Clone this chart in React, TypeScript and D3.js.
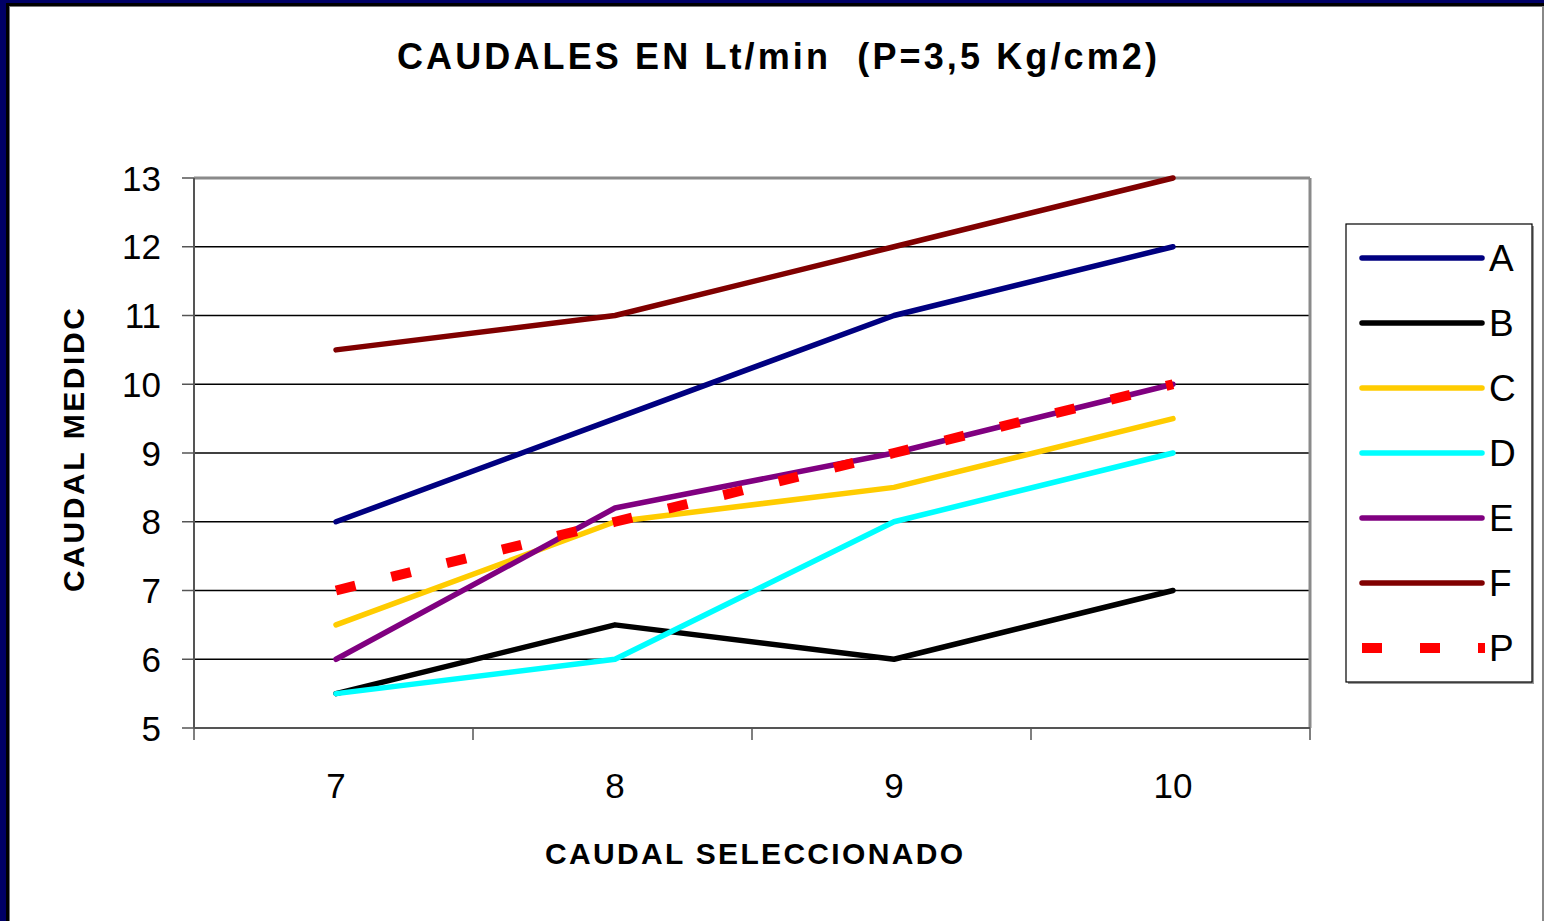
import React from "react";
import * as d3 from "d3";

// Selected flow (Lt/min) on the x axis
const categories = ["7", "8", "9", "10"];
const yTicks = [5, 6, 7, 8, 9, 10, 11, 12, 13];

// Measured flow per nozzle
const seriesNames = ["A", "B", "C", "D", "E", "F", "P"];
const valuesA = [8, 9.5, 11, 12];
const valuesB = [5.5, 6.5, 6, 7];
const valuesC = [6.5, 8, 8.5, 9.5];
const valuesD = [5.5, 6, 8, 9];
const valuesE = [6, 8.2, 9, 10];
const valuesF = [10.5, 11, 12, 13];
const valuesP = [7, 8, 9, 10];

const seriesColors = ["#000080", "#000000", "#FFCC00", "#00FFFF", "#800080", "#800000", "#FF0000"];

const W = 1544;
const H = 921;
const plot = { left: 194, right: 1310, top: 178, bottom: 728 };
const FONT = "'Liberation Sans', Arial, Helvetica, sans-serif";

export default function App() {
  const seriesValues = [valuesA, valuesB, valuesC, valuesD, valuesE, valuesF, valuesP];
  const x = d3.scaleBand<string>().domain(categories).range([plot.left, plot.right]).padding(0);
  const cx = (c: string) => (x(c) as number) + x.bandwidth() / 2 + 2.5;
  const y = d3.scaleLinear().domain([5, 13]).range([plot.bottom, plot.top]);

  const line = d3
    .line<number>()
    .x((_, i) => cx(categories[i]))
    .y((v) => y(v));

  const bandEdges = [...categories.map((c) => x(c) as number), plot.right];

  const legend = { x: 1346, y: 224, w: 186, h: 458 };
  const legendStep = 65;

  return (
    <svg
      width={W}
      height={H}
      style={{ position: "absolute", left: 0, top: 0, display: "block", background: "#fff" }}
    >
      {/* slide frame */}
      <rect x={0} y={0} width={W} height={H} fill="#fff" />
      <rect x={0} y={0} width={6} height={H} fill="#000066" />
      <rect x={0} y={0} width={W} height={3} fill="#000066" />
      <rect x={6} y={3} width={W - 6} height={3} fill="#000" />
      <rect x={6} y={3} width={3} height={H} fill="#000" />
      <rect x={9} y={6} width={1} height={H} fill="#777" />
      <rect x={9} y={6} width={W - 9} height={1} fill="#777" />
      <rect x={1542} y={6} width={2} height={H} fill="#888" />

      {/* title */}
      <text
        x={777}
        y={69}
        textAnchor="middle"
        fontFamily={FONT}
        fontWeight="bold"
        fontSize={36}
        fill="#000"
        textLength={760}
        lengthAdjust="spacing"
        style={{ whiteSpace: "pre" }}
      >
        {"CAUDALES EN Lt/min  (P=3,5 Kg/cm2)"}
      </text>

      {/* gridlines */}
      {yTicks.slice(1, -1).map((t) => (
        <line key={t} x1={plot.left} x2={plot.right} y1={y(t)} y2={y(t)} stroke="#000" strokeWidth={1.3} />
      ))}

      {/* plot frame */}
      <line x1={plot.left} x2={plot.right} y1={plot.top} y2={plot.top} stroke="#8a8a8a" strokeWidth={3} />
      <line x1={plot.right} x2={plot.right} y1={plot.top} y2={plot.bottom} stroke="#8a8a8a" strokeWidth={3} />

      {/* y axis */}
      <line x1={plot.left} x2={plot.left} y1={plot.top} y2={plot.bottom} stroke="#555" strokeWidth={2} />
      {yTicks.map((t) => (
        <g key={t}>
          <line x1={plot.left - 12} x2={plot.left} y1={y(t)} y2={y(t)} stroke="#555" strokeWidth={1.5} />
          <text
            x={161}
            y={y(t) + 12.5}
            textAnchor="end"
            fontFamily={FONT}
            fontSize={35}
            fill="#000"
          >
            {t}
          </text>
        </g>
      ))}

      {/* x axis */}
      <line x1={plot.left} x2={plot.right} y1={plot.bottom} y2={plot.bottom} stroke="#555" strokeWidth={2} />
      {bandEdges.map((e, i) => (
        <line key={i} x1={e} x2={e} y1={plot.bottom} y2={plot.bottom + 12} stroke="#555" strokeWidth={1.5} />
      ))}
      {categories.map((c) => (
        <text key={c} x={cx(c)} y={798} textAnchor="middle" fontFamily={FONT} fontSize={35} fill="#000">
          {c}
        </text>
      ))}

      {/* axis titles */}
      <text
        x={754}
        y={864}
        textAnchor="middle"
        fontFamily={FONT}
        fontWeight="bold"
        fontSize={30}
        fill="#000"
        textLength={418}
        lengthAdjust="spacing"
      >
        CAUDAL SELECCIONADO
      </text>
      <text
        transform="translate(84,450) rotate(-90)"
        textAnchor="middle"
        fontFamily={FONT}
        fontWeight="bold"
        fontSize={30}
        fill="#000"
        textLength={284}
        lengthAdjust="spacing"
      >
        CAUDAL MEDIDC
      </text>

      {/* series */}
      {seriesValues.map((vals, i) => {
        const isP = seriesNames[i] === "P";
        return (
          <path
            key={seriesNames[i]}
            d={line(vals) as string}
            fill="none"
            stroke={seriesColors[i]}
            strokeWidth={isP ? 10 : 5.5}
            strokeLinecap={isP ? "butt" : "round"}
            strokeLinejoin="round"
            strokeDasharray={isP ? "20 37" : undefined}
          />
        );
      })}

      {/* legend */}
      <rect x={legend.x + 2} y={legend.y + 2} width={legend.w} height={legend.h} fill="#999" />
      <rect x={legend.x} y={legend.y} width={legend.w} height={legend.h} fill="#fff" stroke="#000" strokeWidth={1.2} />
      {seriesNames.map((name, i) => {
        const ly = 258 + i * legendStep;
        const isP = name === "P";
        return (
          <g key={name}>
            <line
              x1={1362}
              x2={isP ? 1485 : 1482}
              y1={ly}
              y2={ly}
              stroke={seriesColors[i]}
              strokeWidth={isP ? 10 : 5.5}
              strokeLinecap={isP ? "butt" : "round"}
              strokeDasharray={isP ? "20 38" : undefined}
            />
            <text x={1489} y={ly + 13} fontFamily={FONT} fontSize={37} fill="#000">
              {name}
            </text>
          </g>
        );
      })}
    </svg>
  );
}
